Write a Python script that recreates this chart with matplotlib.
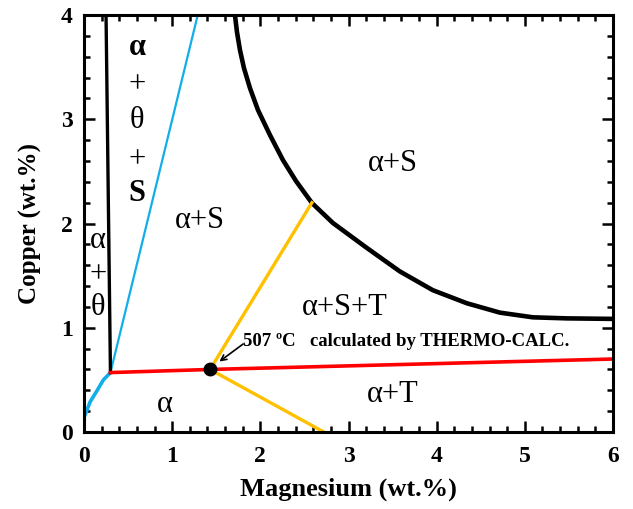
import matplotlib
matplotlib.use('Agg')
import matplotlib.pyplot as plt
from matplotlib.ticker import MultipleLocator

plt.rcParams['font.family'] = ['Liberation Serif', 'DejaVu Serif']

# Lignes du diagramme (Mg wt.%, Cu wt.%)
solvus_mg = [0.01, 0.07, 0.15, 0.22, 0.30]
solvus_cu = [0.16, 0.29, 0.40, 0.50, 0.57]

theta_mg = [0.30, 0.25]
theta_cu = [0.57, 4.0]

cyan_mg = [0.30, 1.29]
cyan_cu = [0.57, 4.0]

red_mg = [0.30, 1.43, 6.0]
red_cu = [0.57, 0.60, 0.70]

tie1_mg = [1.43, 2.585]
tie1_cu = [0.60, 2.20]
tie2_mg = [1.43, 2.72]
tie2_cu = [0.60, 0.0]

big_mg = [1.712, 1.735, 1.769, 1.814, 1.882, 1.973, 2.109, 2.256, 2.404, 2.585,
          2.823, 3.209, 3.583, 3.957, 4.342, 4.717, 5.091, 5.476, 6.0]
big_cu = [4.0, 3.837, 3.664, 3.492, 3.300, 3.089, 2.849, 2.609, 2.408, 2.197,
          2.005, 1.765, 1.54, 1.36, 1.235, 1.145, 1.10, 1.09, 1.085]

point_mg, point_cu = 1.43, 0.60

fig = plt.figure(figsize=(6.33, 5.09), dpi=100)
ax = fig.add_axes([84 / 633, 77 / 509, 529 / 633, 417 / 509])

ax.plot(big_mg, big_cu, color='black', lw=3.3, solid_joinstyle='round')
ax.plot(tie1_mg, tie1_cu, color='#FFC000', lw=2.4)
ax.plot(tie2_mg, tie2_cu, color='#FFC000', lw=2.4)
ax.plot(cyan_mg, cyan_cu, color='#12AEEA', lw=1.6)
ax.plot(solvus_mg, solvus_cu, color='#12AEEA', lw=2.6, solid_joinstyle='round')
ax.plot(theta_mg, theta_cu, color='black', lw=2.4)
ax.plot(red_mg, red_cu, color='#FF0000', lw=2.6)
ax.plot(point_mg, point_cu, 'o', color='black', ms=9, zorder=5)

ax.set_xlim(0, 6)
ax.set_ylim(0, 4)
ax.xaxis.set_major_locator(MultipleLocator(1))
ax.xaxis.set_minor_locator(MultipleLocator(0.2))
ax.yaxis.set_major_locator(MultipleLocator(1))
ax.yaxis.set_minor_locator(MultipleLocator(0.2))
ax.tick_params(which='both', direction='in', top=True, right=True, width=1.8)
ax.tick_params(which='major', length=8, labelsize=17, pad=8)
ax.tick_params(axis='x', which='major', pad=10)
ax.tick_params(which='minor', length=4.5)
for lab in ax.get_xticklabels() + ax.get_yticklabels():
    lab.set_fontweight('bold')
for sp in ax.spines.values():
    sp.set_linewidth(2.2)

ax.set_xlabel('Magnesium (wt.%)', fontsize=19, fontweight='bold', labelpad=8)
ax.set_ylabel('Copper (wt.%)', fontsize=18, fontweight='bold', labelpad=14)

fs = 22
kw = dict(ha='center', va='center', fontsize=fs)
ax.text(0.60, 3.69, 'α', fontweight='bold', **kw)
ax.text(0.60, 3.33, '+', **kw)
ax.text(0.60, 2.99, 'θ', **kw)
ax.text(0.60, 2.61, '+', **kw)
ax.text(0.60, 2.29, 'S', fontweight='bold', **kw)
ax.text(0.155, 1.84, 'α', **kw)
ax.text(0.155, 1.51, '+', **kw)
ax.text(0.155, 1.19, 'θ', **kw)
ax.text(1.315, 2.03, 'α+S', **kw)
ax.text(3.50, 2.58, 'α+S', **kw)
ax.text(2.96, 1.19, 'α+S+T', **kw)
ax.text(3.50, 0.355, 'α+T', **kw)
ax.text(0.92, 0.26, 'α', **kw)

ax.text(1.80, 0.87, '507 ºC', fontsize=13.5, fontweight='bold', ha='left', va='center')
ax.text(2.56, 0.87, 'calculated by THERMO-CALC.', fontsize=13.5, fontweight='bold',
        ha='left', va='center')
ax.annotate('', xy=(1.51, 0.66), xytext=(1.83, 0.86),
            arrowprops=dict(arrowstyle='->', color='black', lw=1.2))

fig.savefig('out.png', dpi=100)
